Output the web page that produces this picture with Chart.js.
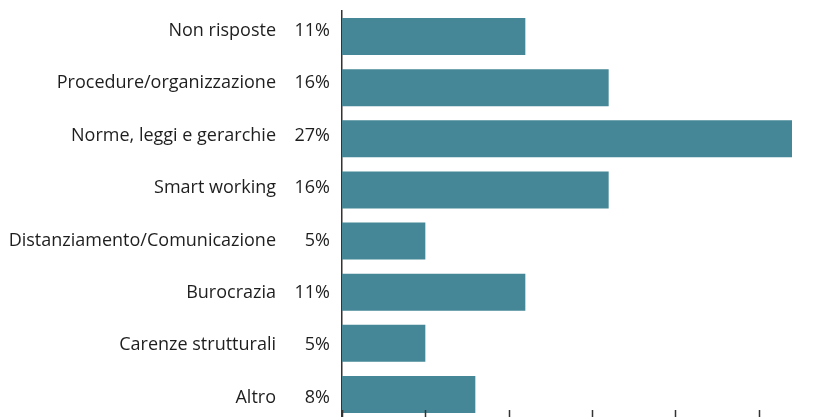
<!DOCTYPE html>
<html>
<head>
<meta charset="utf-8">
<script src="https://cdn.jsdelivr.net/npm/chart.js@4/dist/chart.umd.min.js"></script>
<style>
  html, body { margin: 0; padding: 0; background: #fff; overflow: hidden; }
  #wrap { width: 842px; height: 420px; }
</style>
</head>
<body>
<div id="wrap"><canvas id="motiviChart" width="842" height="420"></canvas></div>
<script>
const categorie = ['Non risposte', 'Procedure/organizzazione', 'Norme, leggi e gerarchie', 'Smart working',
    'Distanziamento/Comunicazione', 'Burocrazia', 'Carenze strutturali', 'Altro'];
const percentuali = [11, 16, 27, 16, 5, 11, 5, 8];
const xTicks = [0, 5, 10, 15, 20, 25];

const testo = '#1e1e1e';
const linea = '#333';
const font = { family: 'Open Sans', size: 18 };

// estremi degli assi delle etichette: righe un po' più larghe delle barre
const etichetteMin = -0.382;
const etichetteMax = 7.429;

// piccole tacche sull'asse orizzontale, disegnate verso l'interno
const tacche = {
    id: 'tacche',
    afterDatasetsDraw(chart) {
        const { ctx, chartArea, scales } = chart;
        ctx.save();
        ctx.strokeStyle = linea;
        ctx.lineWidth = 1.5;
        xTicks.forEach(v => {
            const x = Math.round(scales.x.getPixelForValue(v)) + 0.5;
            ctx.beginPath();
            ctx.moveTo(x, chartArea.bottom - 10);
            ctx.lineTo(x, chartArea.bottom);
            ctx.stroke();
        });
        ctx.restore();
    }
};

// larghezza fissa e niente margine extra sopra/sotto per gli assi delle etichette
function fissa(larghezza) {
    return function (scale) {
        scale.width = larghezza;
        scale.paddingTop = 0;
        scale.paddingBottom = 0;
    };
}

// un'etichetta per ogni categoria
function unaPerRiga(scale) {
    scale.ticks = categorie.map((c, i) => ({ value: i }));
}

const assetichette = {
    type: 'linear',
    position: 'left',
    reverse: true,
    offset: false,
    bounds: 'data',
    min: etichetteMin,
    max: etichetteMax,
    grid: { display: false, drawTicks: false },
    afterBuildTicks: unaPerRiga
};

new Chart(document.getElementById('motiviChart'), {
    type: 'bar',
    data: {
        labels: categorie,
        datasets: [{
            data: percentuali,
            yAxisID: 'barre',
            backgroundColor: '#458796',
            borderWidth: 0,
            barPercentage: 0.725,
            categoryPercentage: 1
        }]
    },
    options: {
        indexAxis: 'y',
        responsive: false,
        animation: false,
        layout: { padding: { top: 11, left: 0, right: 0, bottom: 0 } },
        plugins: { legend: { display: false }, tooltip: { enabled: false } },
        scales: {
            x: {
                display: false,
                min: 0,
                max: 30,
                ticks: { stepSize: 5 }
            },
            barre: {
                type: 'category',
                axis: 'y',
                display: false
            },
            y: {
                ...assetichette,
                weight: 0,
                border: { display: true, color: linea, width: 1.5 },
                ticks: {
                    color: testo, font: font, padding: 12, autoSkip: false,
                    callback: v => percentuali[v] + '%'
                },
                afterFit: fissa(50)
            },
            nomi: {
                ...assetichette,
                axis: 'y',
                weight: 1,
                border: { display: false },
                ticks: {
                    color: testo, font: font, padding: 16, autoSkip: false,
                    callback: v => categorie[v]
                },
                afterFit: fissa(292)
            }
        }
    },
    plugins: [tacche]
});
</script>
</body>
</html>
